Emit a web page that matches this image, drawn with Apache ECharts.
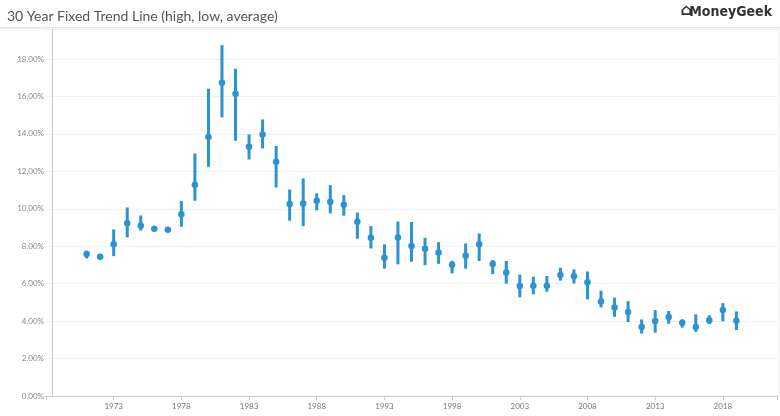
<!DOCTYPE html>
<html><head><meta charset="utf-8">
<script src="https://cdn.jsdelivr.net/npm/echarts@6/dist/echarts.min.js"></script>
<style>html,body{margin:0;padding:0;background:#fff;overflow:hidden}#c{width:780px;height:416px}</style>
</head><body><div id="c"></div>
<script>
const years = [1971,1972,1973,1974,1975,1976,1977,1978,1979,1980,1981,1982,1983,1984,1985,1986,1987,1988,1989,1990,1991,1992,1993,1994,1995,1996,1997,1998,1999,2000,2001,2002,2003,2004,2005,2006,2007,2008,2009,2010,2011,2012,2013,2014,2015,2016,2017,2018,2019];
const avgRate = [7.58,7.44,8.10,9.23,9.09,8.93,8.88,9.70,11.28,13.83,16.73,16.14,13.31,13.97,12.51,10.25,10.28,10.43,10.37,10.21,9.31,8.45,7.38,8.47,8.01,7.86,7.67,7.01,7.49,8.11,7.05,6.60,5.87,5.89,5.89,6.46,6.39,6.07,5.05,4.73,4.48,3.68,4.00,4.22,3.91,3.68,4.04,4.59,4.02];
const highRate = [7.76,7.53,8.90,10.07,9.64,9.07,8.99,10.41,12.95,16.41,18.74,17.47,13.97,14.77,13.35,11.03,11.62,10.82,11.26,10.73,9.80,9.07,8.10,9.32,9.29,8.45,8.22,7.22,8.15,8.68,7.26,7.21,6.48,6.37,6.41,6.85,6.76,6.65,5.62,5.25,5.07,4.09,4.59,4.54,4.09,4.36,4.31,4.96,4.52];
const lowRate = [7.35,7.33,7.47,8.47,8.84,8.81,8.74,9.04,10.43,12.24,14.88,13.63,12.63,13.22,11.14,9.36,9.07,9.91,9.75,9.63,8.40,7.88,6.80,7.03,7.17,6.99,7.06,6.55,6.80,7.21,6.51,6.00,5.27,5.43,5.57,6.16,6.01,5.16,4.73,4.23,3.95,3.33,3.38,3.86,3.65,3.43,3.84,3.99,3.52];
const yTicks = [0,2,4,6,8,10,12,14,16,18];
const COLOR = '#2a93d0';
const chart = echarts.init(document.getElementById('c'));
chart.setOption({
  animation:false,
  title:{text:'30 Year Fixed Trend Line (high, low, average)',left:2,top:4,textStyle:{fontFamily:'Lato',fontSize:14,fontWeight:'normal',color:'#555'}},
  graphic:[
    {type:'rect',shape:{x:0,y:27,width:780,height:1.5},style:{fill:'#e6e6e6'}},
    {type:'rect',shape:{x:52,y:29,width:1,height:367},style:{fill:'#ccc'},z:10},
    {type:'rect',shape:{x:52,y:29,width:727,height:367},style:{fill:'none',stroke:'#eee',lineWidth:1},z:0},
    {type:'text',right:8,top:5,style:{text:'MoneyGeek',font:'bold 14px "DejaVu Sans Condensed", sans-serif',fill:'#333'}},
    {type:'text',right:88,top:3,style:{text:'⌂',font:'bold 16px "DejaVu Sans"',fill:'#333'}}
  ],
  grid:{left:46,right:-11,top:29,bottom:20},
  xAxis:{type:'value',min:1968,max:2022,interval:5,
    axisLine:{lineStyle:{color:'#ccc'}},axisTick:{show:true,length:4,lineStyle:{color:'#ccc'}},
    splitLine:{show:false},
    axisLabel:{fontSize:8,color:'#777',fontFamily:'Lato',margin:6,
      formatter:v=>(v>=1973&&v<=2018)?String(v):''}},
  yAxis:{type:'value',min:0,max:19.6,interval:2,
    axisLine:{show:false},axisTick:{show:false},
    splitLine:{lineStyle:{color:'#f0f0f0'}},
    axisLabel:{fontSize:8,color:'#888',fontFamily:'Lato',margin:2,
      formatter:v=>yTicks.includes(v)?v.toFixed(2)+'%':''}},
  series:[
    {type:'custom',data:years.map((y,i)=>[y,lowRate[i],highRate[i]]),
     renderItem:(p,api)=>{const a=api.coord([api.value(0),api.value(1)]),b=api.coord([api.value(0),api.value(2)]);
       return {type:'line',shape:{x1:a[0],y1:a[1],x2:b[0],y2:b[1]},style:{stroke:COLOR,lineWidth:3}};}},
    {type:'scatter',data:years.map((y,i)=>[y,avgRate[i]]),symbolSize:6.5,itemStyle:{color:COLOR,opacity:1}}
  ]
});
</script></body></html>
